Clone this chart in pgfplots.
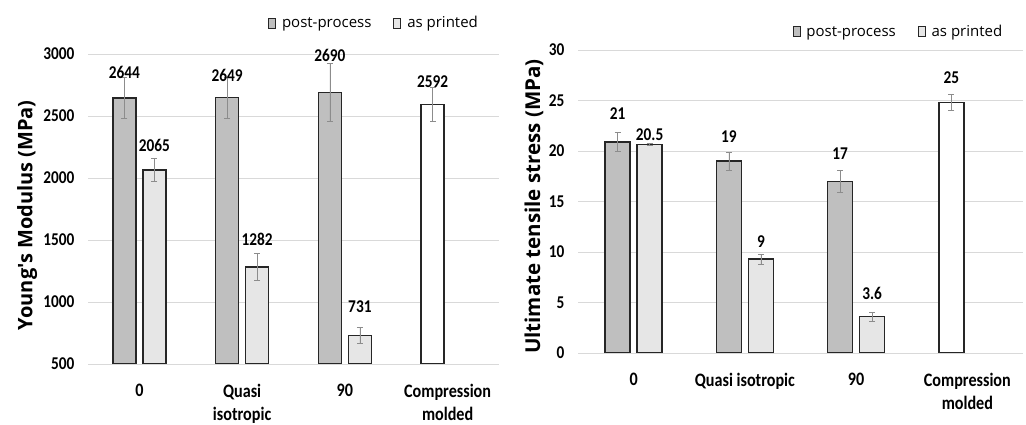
\documentclass[border=0pt]{standalone}
\usepackage{pgfplots}
\pgfplotsset{compat=1.18}
\usepackage{fontspec}
\setmainfont[FakeStretch=0.85]{Carlito}
\newfontfamily\osans{Open Sans}
\definecolor{pp}{HTML}{BFBFBF}
\definecolor{ap}{HTML}{E6E6E6}
\definecolor{edge}{HTML}{262626}
\definecolor{gridc}{HTML}{D9D9D9}
\definecolor{errc}{HTML}{8C8C8C}
\pgfplotsset{
  mystyle/.style={
    scale only axis,
    axis line style={draw=none},
    tick style={draw=none},
    ymajorgrids,
    major grid style={gridc, line width=0.8pt},
    xtick={0,1,2,3},
    xmin=-0.5, xmax=3.5,
    clip=true,
    /pgf/number format/assume math mode=true,
    /pgf/number format/1000 sep={},
    yticklabel style={font=\fontsize{18}{20}\selectfont\bfseries, xshift=-10pt},
    xticklabel style={align=center, font=\fontsize{19}{23}\selectfont\bfseries, yshift=-17pt},
    legend style={draw=none, fill=none, legend columns=2,
      font=\osans\fontsize{15}{18}\selectfont,
      /tikz/every odd column/.append style={column sep=4pt},
      /tikz/every even column/.append style={column sep=20pt}},
  },
  errs/.style={error bars/.cd, y dir=both, y explicit,
      error bar style={errc, line width=0.7pt},
      error mark options={errc, rotate=90, mark size=3pt, line width=0.7pt}},
  labs/.style={draw=none, mark=none, nodes near coords, point meta=explicit symbolic,
      nodes near coords align={center},
      every node near coord/.append style={font=\fontsize{18}{20}\selectfont\bfseries, inner sep=0pt}},
}
\begin{document}
\begin{tikzpicture}
\useasboundingbox (0,0) rectangle (1026pt,425pt);
% ---------------- left chart
\begin{axis}[mystyle,
  at={(88pt,61pt)}, anchor=south west,
  width=411pt, height=310pt,
  ymin=500, ymax=3000, ytick={500,1000,...,3000},
  xticklabels={0,{Quasi\\isotropic},90,{Compression\\molded}},
  ylabel={\osans\bfseries\fontsize{20}{24}\selectfont Young's Modulus (MPa)},
  every axis y label/.style={at={(axis description cs:-0.148,0.48)}, rotate=90, anchor=center},
  legend style={at={(rel axis cs:0.696,1.10)}, anchor=center},
]
\addlegendimage{legend image code/.code={\draw[fill=pp,draw=edge,line width=0.8pt] (0pt,-5pt) rectangle (7pt,5pt);}}
\addlegendentry{post-process}
\addlegendimage{legend image code/.code={\draw[fill=ap,draw=edge,line width=0.8pt] (0pt,-5pt) rectangle (7pt,5pt);}}
\addlegendentry{as printed}
\addplot[forget plot, ybar, bar width=23pt, bar shift=0pt, fill=pp, draw=edge, line width=1.5pt, errs]
  table[x=x, y=y, y error=e]{
x y e
-0.146 2644 165
0.854 2649 165
1.854 2690 233
};
\addplot[forget plot, ybar, bar width=23pt, bar shift=0pt, fill=ap, draw=edge, line width=1.5pt, errs]
  table[x=x, y=y, y error=e]{
x y e
0.146 2065 92
1.146 1282 107
2.146 731 67
};
\addplot[forget plot, ybar, bar width=23pt, bar shift=0pt, fill=white, draw=edge, line width=1.5pt, errs]
  table[x=x, y=y, y error=e]{
x y e
2.854 2592 135
};
\addplot[forget plot, labs] table[x=x, y=y, meta=lab]{
x y lab
-0.146 2855 2644
0.854 2831 2649
1.854 2992 2690
2.854 2777 2592
0.146 2261 2065
1.146 1507 1282
2.146 966 731
};
\end{axis}
% ---------------- right chart
\begin{axis}[mystyle,
  at={(578pt,72pt)}, anchor=south west,
  width=445pt, height=303pt,
  ymin=0, ymax=30, ytick={0,5,...,30},
  xticklabels={0,{Quasi isotropic},90,{Compression\\molded}},
  ylabel={\osans\bfseries\fontsize{20.5}{24}\selectfont Ultimate tensile stress (MPa)},
  every axis y label/.style={at={(axis description cs:-0.099,0.483)}, rotate=90, anchor=center},
  legend style={at={(rel axis cs:0.72,1.06)}, anchor=center},
]
\addlegendimage{legend image code/.code={\draw[fill=pp,draw=edge,line width=0.8pt] (0pt,-5pt) rectangle (7pt,5pt);}}
\addlegendentry{post-process}
\addlegendimage{legend image code/.code={\draw[fill=ap,draw=edge,line width=0.8pt] (0pt,-5pt) rectangle (7pt,5pt);}}
\addlegendentry{as printed}
\addplot[forget plot, ybar, bar width=25pt, bar shift=0pt, fill=pp, draw=edge, line width=1.5pt, errs]
  table[x=x, y=y, y error=e]{
x y e
-0.144 20.9 0.9
0.856 19.0 0.9
1.856 17.0 1.1
};
\addplot[forget plot, ybar, bar width=25pt, bar shift=0pt, fill=ap, draw=edge, line width=1.5pt, errs]
  table[x=x, y=y, y error=e]{
x y e
0.144 20.65 0.13
1.144 9.3 0.5
2.144 3.6 0.45
};
\addplot[forget plot, ybar, bar width=25pt, bar shift=0pt, fill=white, draw=edge, line width=1.5pt, errs]
  table[x=x, y=y, y error=e]{
x y e
2.856 24.8 0.8
};
\addplot[forget plot, labs] table[x=x, y=y, meta=lab]{
x y lab
-0.144 23.73 21
0.144 21.64 20.5
0.856 21.41 19
1.856 19.76 17
2.856 27.29 25
1.144 11.04 9
2.144 5.85 3.6
};
\end{axis}
\end{tikzpicture}
\end{document}
